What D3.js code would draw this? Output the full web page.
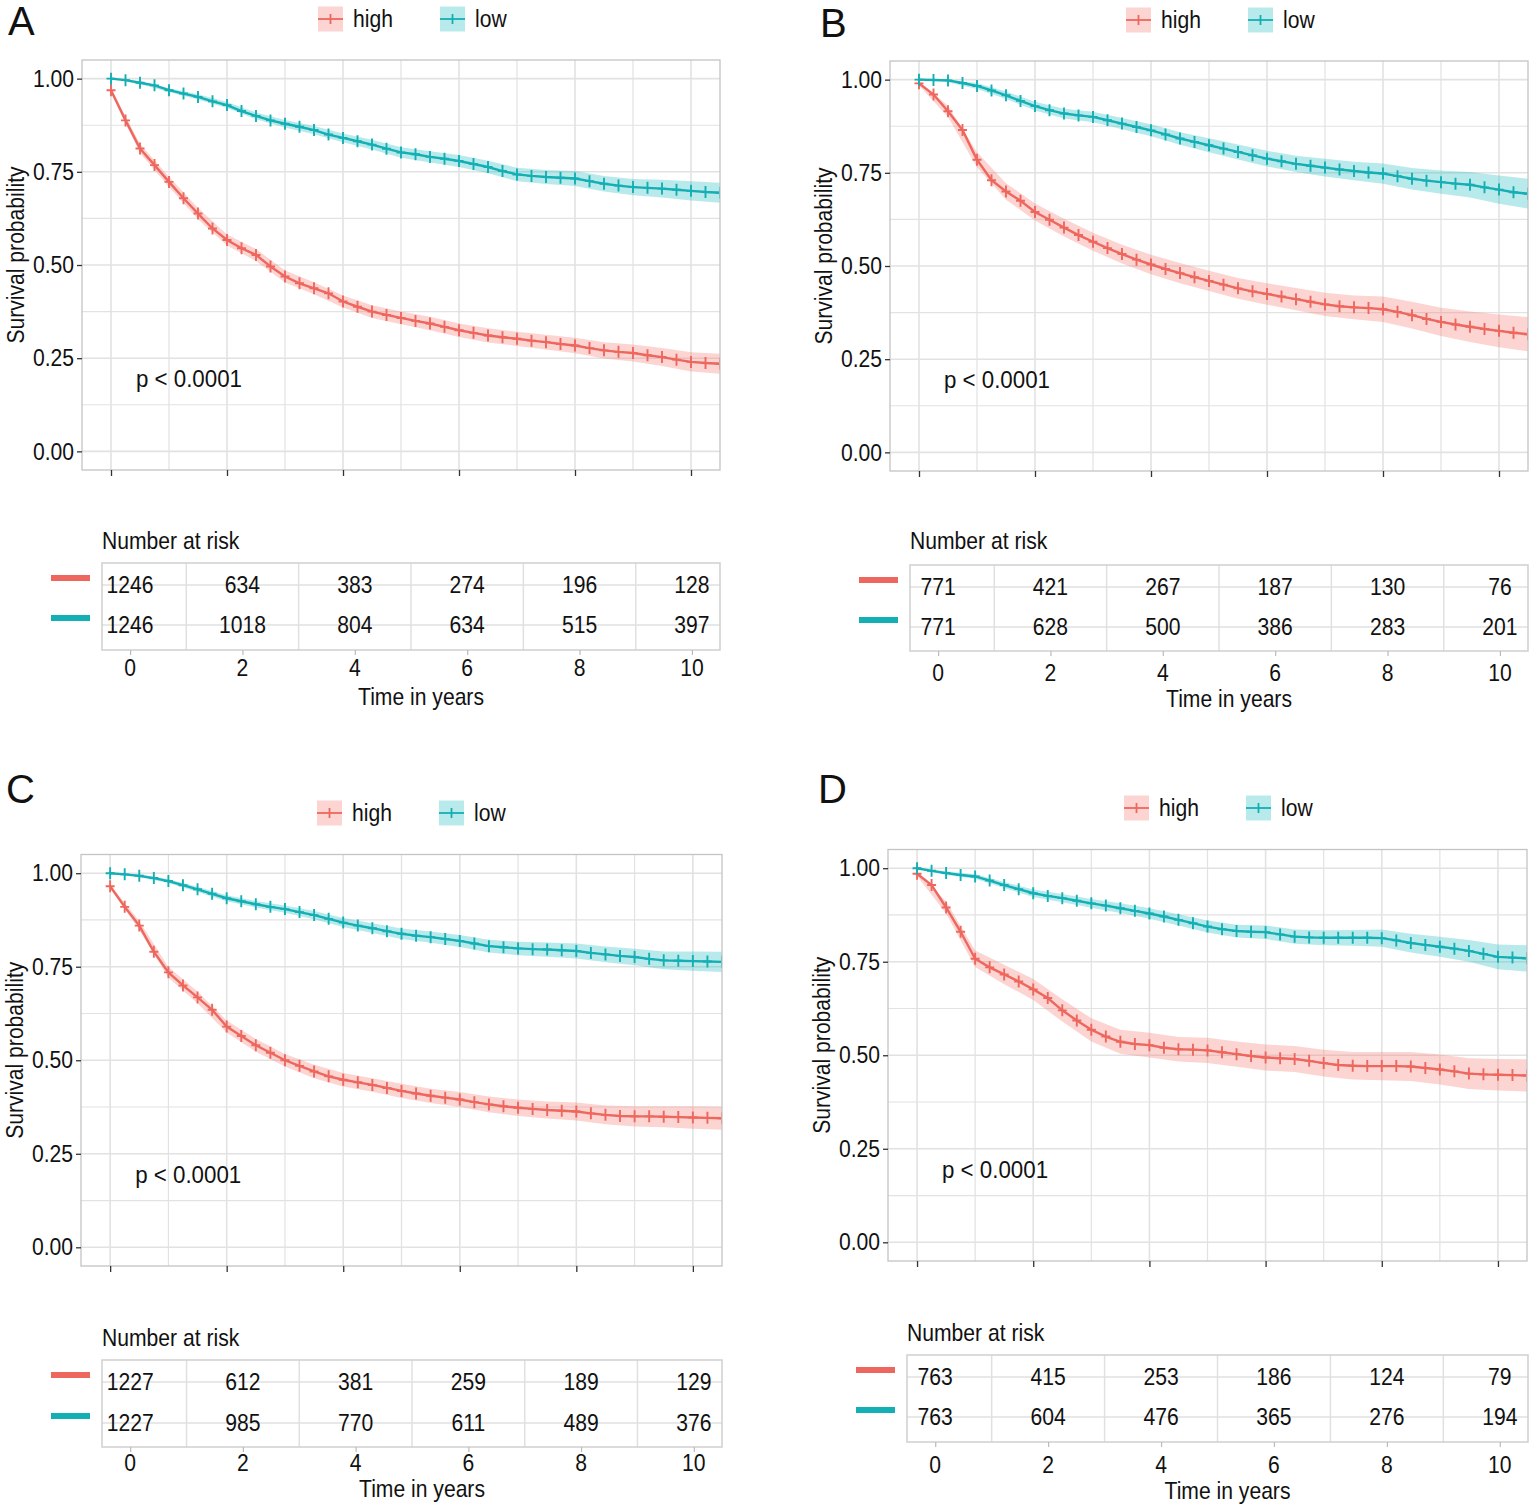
<!DOCTYPE html>
<html>
<head>
<meta charset="utf-8">
<script src="https://cdn.jsdelivr.net/npm/d3@7"></script>
<style>
  body { margin: 0; background: #fff; }
  text { font-family: "Liberation Sans", Arial, sans-serif; fill: #111; }
</style>
</head>
<body>
<svg id="chart" width="1535" height="1506"></svg>
<script>
// ---------------- DATA ----------------
const panelLabels = ["A", "B", "C", "D"];
const groups = ["high", "low"];
const xTicks = [0, 2, 4, 6, 8, 10];
const yTicks = [0, 0.25, 0.5, 0.75, 1];
const riskTimes = [0, 2, 4, 6, 8, 10];
const pvalText = "p < 0.0001";
const yTitle = "Survival probability";
const xTitle = "Time in years";
const tableTitle = "Number at risk";

const times = [0, 0.25, 0.5, 0.75, 1, 1.25, 1.5, 1.75, 2, 2.25, 2.5, 2.75, 3, 3.25, 3.5, 3.75, 4,
  4.25, 4.5, 4.75, 5, 5.25, 5.5, 5.75, 6, 6.25, 6.5, 6.75, 7, 7.25, 7.5, 7.75, 8,
  8.25, 8.5, 8.75, 9, 9.25, 9.5, 9.75, 10, 10.25, 10.5];
const bandTimes = [0, 0.5, 1, 1.5, 2, 2.5, 3, 3.5, 4, 4.5, 5, 5.5, 6, 6.5, 7, 7.5, 8, 8.5, 9, 9.5, 10, 10.5];

// Panel A
const survA_high = [.969,.888,.8125,.768,.723,.679,.638,.598,.567,
  .545,.527,.496,.469,.451,.4375,.424,.402,
  .388,.375,.366,.358,.35,.343,.334,.325,
  .318,.311,.306,.302,.297,.293,.288,.284,
  .277,.271,.267,.264,.258,.253,.246,.24,
  .237,.235];
const survA_low = [1.0,.996,.989,.982,.969,.96,.951,.939,.929,
  .913,.90,.888,.879,.871,.862,.85,.841,
  .832,.823,.812,.802,.797,.79,.785,.779,
  .771,.763,.752,.743,.739,.736,.734,.732,
  .725,.718,.713,.709,.707,.705,.702,.699,
  .696,.694];
const bandA_high = [.005,.012,.014,.015,.015,.016,.016,.016,.016,.017,.017,.018,.018,.019,.019,.020,.021,.022,.023,.024,.026,.027];
const bandA_low  = [0,.004,.005,.007,.008,.009,.010,.011,.012,.013,.014,.015,.016,.017,.018,.019,.020,.021,.022,.024,.026,.027];
const riskA_high = [1246, 634, 383, 274, 196, 128];
const riskA_low  = [1246, 1018, 804, 634, 515, 397];

// Panel B
const survB_high = [.99,.96,.915,.865,.785,.73,.70,.675,.645,
  .624,.603,.583,.565,.548,.532,.517,.504,
  .492,.481,.47,.46,.45,.44,.432,.425,
  .418,.411,.404,.397,.392,.389,.387,.384,
  .377,.368,.358,.35,.343,.337,.331,.326,
  .321,.317];
const survB_low = [1.0,.999,.998,.991,.983,.971,.958,.943,.929,
  .918,.909,.904,.90,.891,.882,.873,.864,
  .853,.842,.833,.824,.815,.806,.797,.788,
  .781,.774,.769,.764,.759,.755,.751,.748,
  .741,.734,.729,.725,.721,.718,.711,.705,
  .698,.694];
const bandB_high = [.006,.015,.020,.022,.023,.024,.024,.025,.026,.027,.027,.028,.029,.030,.031,.032,.034,.036,.038,.041,.044,.046];
const bandB_low  = [0,.005,.008,.010,.012,.013,.014,.015,.016,.017,.019,.020,.021,.022,.024,.025,.027,.029,.031,.034,.038,.040];
const riskB_high = [771, 421, 267, 187, 130, 76];
const riskB_low  = [771, 628, 500, 386, 283, 201];

// Panel C
const survC_high = [.965,.91,.86,.79,.735,.70,.668,.635,.59,
  .565,.54,.52,.50,.485,.47,.457,.448,
  .441,.434,.426,.418,.411,.405,.40,.395,
  .388,.382,.377,.373,.37,.367,.365,.363,
  .358,.354,.351,.35,.35,.349,.348,.347,
  .346,.345];
const survC_low = [1.0,.997,.993,.987,.979,.968,.957,.945,.933,
  .925,.917,.91,.904,.896,.888,.878,.868,
  .86,.853,.845,.838,.833,.829,.824,.819,
  .812,.805,.802,.799,.797,.796,.794,.792,
  .787,.783,.779,.776,.771,.767,.766,.765,
  .764,.763];
const bandC_high = [.005,.012,.014,.016,.016,.017,.017,.018,.018,.018,.019,.019,.020,.021,.022,.023,.024,.025,.027,.028,.030,.031];
const bandC_low  = [0,.004,.005,.007,.008,.009,.010,.011,.012,.013,.014,.015,.016,.017,.018,.019,.020,.021,.022,.024,.026,.027];
const riskC_high = [1227, 612, 381, 259, 189, 129];
const riskC_low  = [1227, 985, 770, 611, 489, 376];

// Panel D
const survD_high = [.985,.955,.895,.83,.758,.735,.716,.697,.676,
  .653,.62,.593,.568,.55,.536,.53,.527,
  .52,.516,.515,.513,.508,.503,.498,.494,
  .492,.49,.485,.479,.474,.472,.471,.471,
  .471,.47,.466,.462,.457,.451,.449,.448,
  .447,.446];
const survD_low = [1.0,.993,.987,.982,.978,.967,.955,.944,.933,
  .926,.92,.913,.906,.90,.893,.886,.879,
  .871,.862,.853,.844,.837,.832,.83,.829,
  .823,.817,.815,.814,.814,.814,.814,.813,
  .807,.80,.795,.79,.785,.779,.771,.763,
  .761,.759];
const bandD_high = [.006,.016,.022,.026,.028,.030,.031,.032,.033,.033,.034,.034,.035,.035,.036,.037,.038,.039,.040,.041,.042,.043];
const bandD_low  = [0,.005,.006,.008,.010,.011,.012,.013,.014,.015,.016,.017,.018,.019,.020,.021,.023,.025,.027,.029,.033,.035];
const riskD_high = [763, 415, 253, 186, 124, 79];
const riskD_low  = [763, 604, 476, 365, 276, 194];

// ---------------- ASSEMBLY / LAYOUT ----------------
const panelsData = [
  { surv: [survA_high, survA_low], band: [bandA_high, bandA_low], risk: [riskA_high, riskA_low] },
  { surv: [survB_high, survB_low], band: [bandB_high, bandB_low], risk: [riskB_high, riskB_low] },
  { surv: [survC_high, survC_low], band: [bandC_high, bandC_low], risk: [riskC_high, riskC_low] },
  { surv: [survD_high, survD_low], band: [bandD_high, bandD_low], risk: [riskD_high, riskD_low] }
];
const layout = [
  { x0: 82,  x1: 720,  y0: 60,    y1: 470,  lx: 8,   ly: 21,  legY: 19,  tx0: 102, tx1: 720,  ty0: 563,  ty1: 650,  rows: [585, 625],   nrY: 541,  tickY: 668,  titleY: 697 },
  { x0: 890, x1: 1528, y0: 61,    y1: 471,  lx: 820, ly: 23,  legY: 20,  tx0: 910, tx1: 1528, ty0: 565,  ty1: 651,  rows: [587, 627],   nrY: 541,  tickY: 673,  titleY: 699 },
  { x0: 81,  x1: 722,  y0: 854.5, y1: 1266, lx: 6,   ly: 789, legY: 813, tx0: 102, tx1: 722,  ty0: 1360, ty1: 1447, rows: [1382, 1423], nrY: 1338, tickY: 1463, titleY: 1489 },
  { x0: 888, x1: 1527, y0: 849.5, y1: 1261, lx: 818, ly: 789, legY: 808, tx0: 907, tx1: 1528, ty0: 1355, ty1: 1442, rows: [1377, 1417], nrY: 1333, tickY: 1465, titleY: 1491 }
];
const colors = ["#EE675E", "#14AFB4"];
const bandColors = ["rgba(245,120,112,0.32)", "rgba(20,185,190,0.30)"];
const FS = 24, SX = 0.88;

const svg = d3.select("#chart");

function label(g, x, y, s, anchor, size, sx) {
  return g.append("text")
    .attr("transform", `translate(${x},${y}) scale(${sx === undefined ? SX : sx},1)`)
    .attr("font-size", size || FS)
    .attr("text-anchor", anchor || "start")
    .attr("dy", "0.35em")
    .text(s);
}

panelsData.forEach((pd, pi) => {
  const L = layout[pi];
  const g = svg.append("g");
  const x = d3.scaleLinear().domain([-0.5, 10.5]).range([L.x0, L.x1]);
  const y = d3.scaleLinear().domain([-0.05, 1.05]).range([L.y1, L.y0]);

  // panel letter
  g.append("text").attr("x", L.lx).attr("y", L.ly).attr("dy", "0.35em")
    .attr("font-size", 40).text(panelLabels[pi]);

  // legend
  groups.forEach((gr, gi) => {
    const kx = L.x0 + 236 + gi * 122;
    const lg = g.append("g");
    lg.append("rect").attr("x", kx).attr("y", L.legY - 12.5).attr("width", 25).attr("height", 25)
      .attr("fill", bandColors[gi]);
    lg.append("line").attr("x1", kx).attr("x2", kx + 25).attr("y1", L.legY).attr("y2", L.legY)
      .attr("stroke", colors[gi]).attr("stroke-width", 1.8);
    lg.append("line").attr("x1", kx + 12.5).attr("x2", kx + 12.5).attr("y1", L.legY - 5).attr("y2", L.legY + 5)
      .attr("stroke", colors[gi]).attr("stroke-width", 1.8);
    label(lg, kx + 35, L.legY, gr, "start");
  });

  // panel background and grid
  g.append("rect").attr("x", L.x0).attr("y", L.y0).attr("width", L.x1 - L.x0).attr("height", L.y1 - L.y0)
    .attr("fill", "#fff");
  const xMinor = [1, 3, 5, 7, 9];
  const yMinor = [0.125, 0.375, 0.625, 0.875];
  const grid = g.append("g").attr("stroke", "#e2e2e2");
  grid.selectAll(".vmin").data(xMinor).join("line")
    .attr("x1", d => x(d)).attr("x2", d => x(d)).attr("y1", L.y0).attr("y2", L.y1).attr("stroke-width", 1.2);
  grid.selectAll(".hmin").data(yMinor).join("line")
    .attr("y1", d => y(d)).attr("y2", d => y(d)).attr("x1", L.x0).attr("x2", L.x1).attr("stroke-width", 1.2);
  grid.selectAll(".vmaj").data(xTicks).join("line")
    .attr("x1", d => x(d)).attr("x2", d => x(d)).attr("y1", L.y0).attr("y2", L.y1).attr("stroke-width", 1.6);
  grid.selectAll(".hmaj").data(yTicks).join("line")
    .attr("y1", d => y(d)).attr("y2", d => y(d)).attr("x1", L.x0).attr("x2", L.x1).attr("stroke-width", 1.6);

  // clip
  const cid = "clip" + pi;
  svg.append("clipPath").attr("id", cid).append("rect")
    .attr("x", L.x0).attr("y", L.y0).attr("width", L.x1 - L.x0).attr("height", L.y1 - L.y0);
  const plot = g.append("g").attr("clip-path", `url(#${cid})`);

  // bands
  groups.forEach((gr, gi) => {
    const s = pd.surv[gi], w = pd.band[gi];
    const bd = bandTimes.map((t, i) => {
      const c = s[times.indexOf(t)];
      return { t, lo: Math.max(0, c - w[i]), hi: Math.min(1, c + w[i]) };
    });
    plot.append("path").datum(bd)
      .attr("fill", bandColors[gi])
      .attr("d", d3.area().x(d => x(d.t)).y0(d => y(d.lo)).y1(d => y(d.hi)));
  });
  // lines and censor marks
  groups.forEach((gr, gi) => {
    const s = pd.surv[gi];
    const pts = times.map((t, i) => ({ t, s: s[i] }));
    plot.append("path").datum(pts)
      .attr("fill", "none").attr("stroke", colors[gi]).attr("stroke-width", 2.4)
      .attr("d", d3.line().x(d => x(d.t)).y(d => y(d.s)));
    plot.append("g").selectAll("path").data(pts).join("path")
      .attr("transform", d => `translate(${x(d.t)},${y(d.s)})`)
      .attr("d", "M-4.5,0H4.5M0,-6V6")
      .attr("stroke", colors[gi]).attr("stroke-width", 1.9).attr("fill", "none");
  });

  // panel border
  g.append("rect").attr("x", L.x0).attr("y", L.y0).attr("width", L.x1 - L.x0).attr("height", L.y1 - L.y0)
    .attr("fill", "none").attr("stroke", "#c4c4c4").attr("stroke-width", 1.3);

  // axes
  const ya = g.append("g").attr("transform", `translate(${L.x0},0)`)
    .call(d3.axisLeft(y).tickValues(yTicks).tickFormat(d3.format(".2f")).tickSize(5).tickPadding(4));
  ya.select(".domain").remove();
  ya.selectAll(".tick line").attr("stroke", "#333").attr("stroke-width", 1.3);
  ya.selectAll(".tick text").attr("font-size", FS).attr("font-family", null).attr("fill", "#111")
    .attr("transform", `scale(${SX},1)`);
  const xa = g.append("g").attr("transform", `translate(0,${L.y1})`)
    .call(d3.axisBottom(x).tickValues(xTicks).tickFormat("").tickSize(6));
  xa.select(".domain").remove();
  xa.selectAll(".tick line").attr("stroke", "#333").attr("stroke-width", 1.3);

  // y title
  g.append("text")
    .attr("transform", `translate(${L.x0 - 58},${(L.y0 + L.y1) / 2 - 10}) rotate(-90) scale(${SX},1)`)
    .attr("font-size", FS).attr("text-anchor", "middle").text(yTitle);

  // p value
  label(g, x(0.43), y(0.195), pvalText, "start", FS, 0.93);

  // ---------- risk table ----------
  const tx = d3.scaleLinear().domain([-0.5, 10.5]).range([L.tx0, L.tx1]);
  label(g, L.tx0, L.nrY, tableTitle, "start");
  const tb = g.append("g");
  tb.append("rect").attr("x", L.tx0).attr("y", L.ty0).attr("width", L.tx1 - L.tx0).attr("height", L.ty1 - L.ty0)
    .attr("fill", "#fff");
  tb.selectAll(".tv").data([1, 3, 5, 7, 9]).join("line")
    .attr("x1", d => tx(d)).attr("x2", d => tx(d)).attr("y1", L.ty0).attr("y2", L.ty1)
    .attr("stroke", "#e0e0e0").attr("stroke-width", 1.5);
  tb.selectAll(".th").data(L.rows).join("line")
    .attr("x1", L.tx0).attr("x2", L.tx1).attr("y1", d => d).attr("y2", d => d)
    .attr("stroke", "#e0e0e0").attr("stroke-width", 1.5);
  tb.append("rect").attr("x", L.tx0).attr("y", L.ty0).attr("width", L.tx1 - L.tx0).attr("height", L.ty1 - L.ty0)
    .attr("fill", "none").attr("stroke", "#cfcfcf").attr("stroke-width", 1.5);
  const ta = tb.append("g").attr("transform", `translate(0,${L.ty1})`)
    .call(d3.axisBottom(tx).tickValues(riskTimes).tickFormat("").tickSize(5));
  ta.select(".domain").remove();
  ta.selectAll(".tick line").attr("stroke", "#bbb").attr("stroke-width", 1.2);

  groups.forEach((gr, gi) => {
    const ry = L.rows[gi];
    tb.append("rect").attr("x", L.tx0 - 51).attr("y", ry - 10).attr("width", 39).attr("height", 6)
      .attr("fill", colors[gi]);
    pd.risk[gi].forEach((n, k) => {
      label(tb, tx(riskTimes[k]), ry, String(n), "middle");
    });
  });
  riskTimes.forEach(t => label(tb, tx(t), L.tickY, String(t), "middle"));
  label(tb, (L.tx0 + L.tx1) / 2 + 10, L.titleY, xTitle, "middle");
});
</script>
</body>
</html>
